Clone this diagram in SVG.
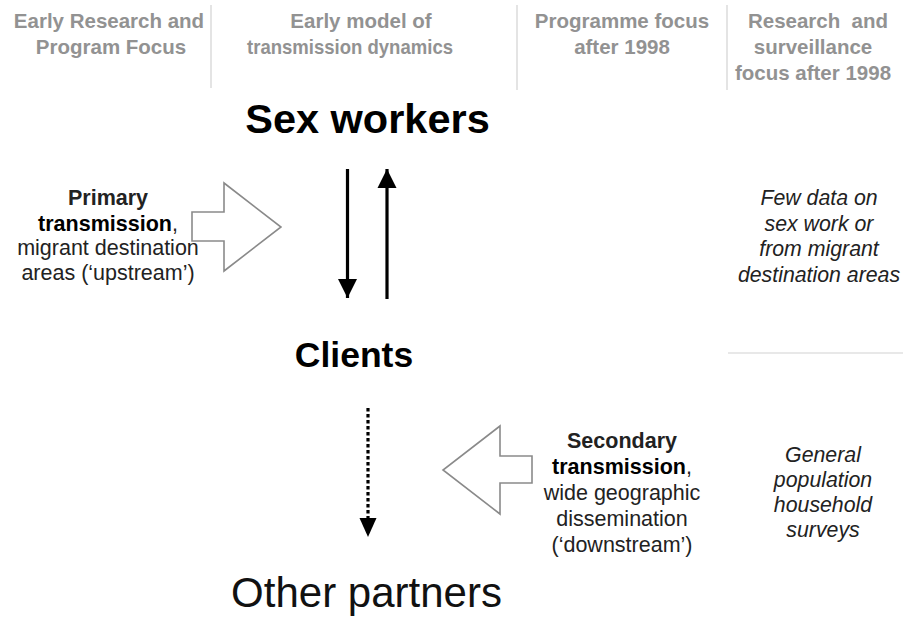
<svg xmlns="http://www.w3.org/2000/svg" width="903" height="619" viewBox="0 0 903 619">
  <style>
    .hdr { font-family: "Liberation Sans", Arial, sans-serif; font-weight: bold; font-size: 20.5px; fill: #929292; text-anchor: middle; }
    .big { font-family: "Liberation Sans", Arial, sans-serif; font-weight: bold; fill: #000; text-anchor: middle; }
    .body { font-family: "Liberation Sans", Arial, sans-serif; font-size: 21.5px; fill: #222; text-anchor: middle; }
    .note { font-family: "Liberation Sans", Arial, sans-serif; font-size: 21.3px; font-style: italic; fill: #222; text-anchor: middle; }
    .rule { stroke: #d2d2d2; stroke-width: 1.2; fill: none; }
    .hollow { fill: #fff; stroke: #8a8a8a; stroke-width: 1.6; stroke-linejoin: miter; }
    .flow { stroke: #000; stroke-width: 3.2; fill: none; }
  </style>
  <defs>
    <marker id="head" viewBox="0 0 10 10" refX="10" refY="5" markerWidth="6" markerHeight="6" markerUnits="strokeWidth" orient="auto">
      <path d="M0,0 L10,5 L0,10 Z" fill="#000"/>
    </marker>
  </defs>
  <rect width="903" height="619" fill="#fff"/>

  <!-- column headers and dividers -->
  <g id="headers">
    <line class="rule" x1="211" y1="5" x2="211" y2="88"/>
    <line class="rule" x1="517" y1="5" x2="517" y2="90"/>
    <line class="rule" x1="727" y1="5" x2="727" y2="90"/>
    <line class="rule" x1="728" y1="353" x2="903" y2="353"/>
    <text class="hdr" x="109" y="28">Early Research and</text>
    <text class="hdr" x="111" y="54">Program Focus</text>
    <text class="hdr" x="361" y="28">Early model of</text>
    <text class="hdr" x="350" y="54" textLength="206" lengthAdjust="spacingAndGlyphs">transmission dynamics</text>
    <text class="hdr" x="622" y="28">Programme focus</text>
    <text class="hdr" x="622" y="54">after 1998</text>
    <text class="hdr" x="818" y="28" xml:space="preserve">Research  and</text>
    <text class="hdr" x="813" y="54">surveillance</text>
    <text class="hdr" x="813" y="80">focus after 1998</text>
  </g>

  <!-- population nodes -->
  <g id="sex-workers">
    <text class="big" x="367.5" y="133" font-size="41.5">Sex workers</text>
  </g>
  <g id="clients">
    <text class="big" x="354" y="367" font-size="35.5">Clients</text>
  </g>
  <g id="other-partners">
    <text x="366.5" y="607" font-family="'Liberation Sans', Arial, sans-serif" font-size="42" fill="#111" text-anchor="middle">Other partners</text>
  </g>

  <!-- primary transmission -->
  <g id="primary">
    <text class="body" x="108" y="205" font-weight="bold" fill="#000">Primary</text>
    <text class="body" x="108" y="231"><tspan font-weight="bold" fill="#000">transmission</tspan>,</text>
    <text class="body" x="108" y="255">migrant destination</text>
    <text class="body" x="108" y="280">areas (‘upstream’)</text>
    <polygon class="hollow" points="192,212 224,212 224,183 281,227 224,271 224,241 192,241"/>
  </g>

  <!-- secondary transmission -->
  <g id="secondary">
    <polygon class="hollow" points="532,456 500,456 500,426 443,470 500,514 500,483 532,483"/>
    <text class="body" x="622" y="448" font-weight="bold" fill="#000">Secondary</text>
    <text class="body" x="622" y="474"><tspan font-weight="bold" fill="#000">transmission</tspan>,</text>
    <text class="body" x="622" y="500">wide geographic</text>
    <text class="body" x="622" y="526">dissemination</text>
    <text class="body" x="622" y="552">(‘downstream’)</text>
  </g>

  <!-- surveillance notes -->
  <g id="note-upstream">
    <text class="note" x="819" y="205">Few data on</text>
    <text class="note" x="819" y="231">sex work or</text>
    <text class="note" x="819" y="256">from migrant</text>
    <text class="note" x="819" y="282">destination areas</text>
  </g>
  <g id="note-downstream">
    <text class="note" x="823" y="462">General</text>
    <text class="note" x="823" y="487">population</text>
    <text class="note" x="823" y="512">household</text>
    <text class="note" x="823" y="537">surveys</text>
  </g>

  <!-- connectors -->
  <g id="connectors">
    <line class="flow" x1="347.5" y1="169" x2="347.5" y2="298" marker-end="url(#head)"/>
    <line class="flow" x1="387" y1="299" x2="387" y2="169" marker-end="url(#head)"/>
    <line class="flow" x1="368" y1="408" x2="368" y2="520" stroke-width="4.5" stroke-dasharray="3.5 2.5"/>
    <polygon points="359.5,518 376.5,518 368,537" fill="#000"/>
  </g>
</svg>
